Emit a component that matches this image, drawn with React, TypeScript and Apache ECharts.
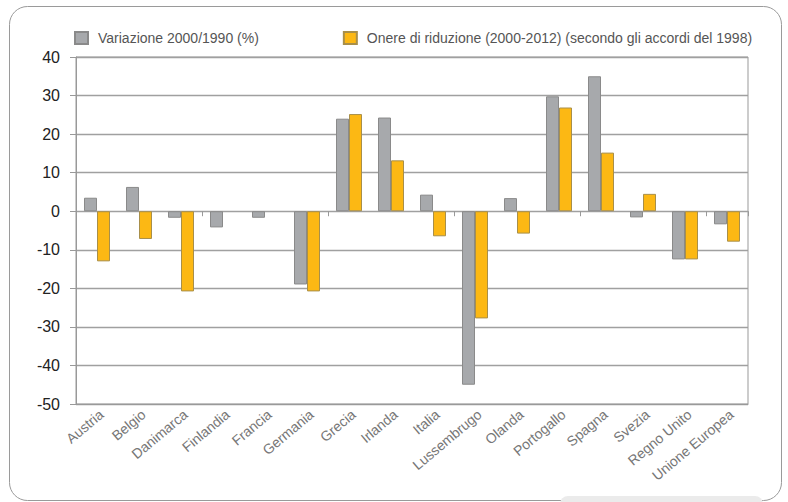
import React, { useEffect, useRef } from "react";
import * as echarts from "echarts";

const categories = [
  "Austria", "Belgio", "Danimarca", "Finlandia", "Francia", "Germania", "Grecia", "Irlanda",
  "Italia", "Lussembrugo", "Olanda", "Portogallo", "Spagna", "Svezia", "Regno Unito", "Unione Europea",
];
const variazione = [3.5, 6.3, -1.7, -4.2, -1.7, -19, 24, 24.3, 4.3, -45, 3.4, 29.8, 35, -1.6, -12.5, -3.4];
const onere: (number | null)[] = [-13, -7.2, -20.8, null, null, -20.8, 25.2, 13.2, -6.5, -27.8, -5.8, 26.9, 15.2, 4.5, -12.5, -7.9];
const seriesNames = ["Variazione 2000/1990 (%)", "Onere di riduzione (2000-2012) (secondo gli accordi del 1998)"];
const yTicks = { min: -50, max: 40, interval: 10 };

const FONT = "'Liberation Sans', Arial, Helvetica, sans-serif";

export default function App() {
  const ref = useRef<HTMLDivElement>(null);
  useEffect(() => {
    if (!ref.current) return;
    const chart = echarts.init(ref.current, null, { renderer: "svg" });
    chart.setOption({
      animation: false,
      textStyle: { fontFamily: FONT },
      graphic: [
        {
          type: "rect",
          shape: { x: 9.5, y: 6.5, width: 772, height: 494, r: 18 },
          style: { fill: "none", stroke: "#9a9a9a", lineWidth: 1 },
          z: 0,
        },
        {
          type: "rect",
          shape: { x: 560, y: 496, width: 203, height: 20, r: 8 },
          style: { fill: "#ebebeb" },
          z: 0,
        },
      ],
      legend: {
        left: 74,
        top: 31,
        padding: 0,
        itemWidth: 13,
        itemHeight: 12,
        itemGap: 84,
        icon: "rect",
        textStyle: { fontFamily: FONT, fontSize: 14, color: "#555", padding: [0, 0, 0, 5] },
        data: seriesNames,
      },
      grid: {
        left: 76,
        right: 40,
        top: 57,
        bottom: 98,
        show: true,
        borderColor: "#999",
        borderWidth: 1,
        backgroundColor: "transparent",
      },
      xAxis: [
        {
          type: "category",
          data: categories,
          position: "bottom",
          axisLine: { onZero: false, lineStyle: { color: "#999" } },
          axisTick: { show: false },
          axisLabel: {
            interval: 0,
            rotate: 40,
            margin: 3,
            verticalAlign: "top",
            fontSize: 14,
            color: "#777",
            fontFamily: FONT,
          },
        },
        {
          type: "category",
          data: categories,
          position: "bottom",
          axisLine: { show: false, onZero: true },
          axisTick: { show: true, length: 5, lineStyle: { color: "#999" } },
          axisLabel: { show: false },
        },
      ],
      yAxis: {
        type: "value",
        min: yTicks.min,
        max: yTicks.max,
        interval: yTicks.interval,
        axisLine: { show: true, lineStyle: { color: "#999" } },
        axisTick: { show: true, length: 6, lineStyle: { color: "#999" } },
        axisLabel: { fontSize: 16, color: "#222", margin: 16, fontFamily: FONT },
        splitLine: { lineStyle: { color: "#a0a0a0", width: 1.3 } },
      },
      series: [
        {
          name: seriesNames[0],
          type: "bar",
          data: variazione,
          barWidth: 13,
          barGap: "0%",
          itemStyle: { color: "#a7a9ac", borderColor: "#8a8a8a", borderWidth: 1 },
        },
        {
          name: seriesNames[1],
          type: "bar",
          data: onere,
          barWidth: 13,
          barGap: "0%",
          itemStyle: { color: "#fcb814", borderColor: "#a88f4a", borderWidth: 1 },
        },
      ],
    });
    return () => chart.dispose();
  }, []);
  return (
    <div
      ref={ref}
      style={{ position: "fixed", left: 0, top: 0, width: 788, height: 502, background: "#fff" }}
    />
  );
}
